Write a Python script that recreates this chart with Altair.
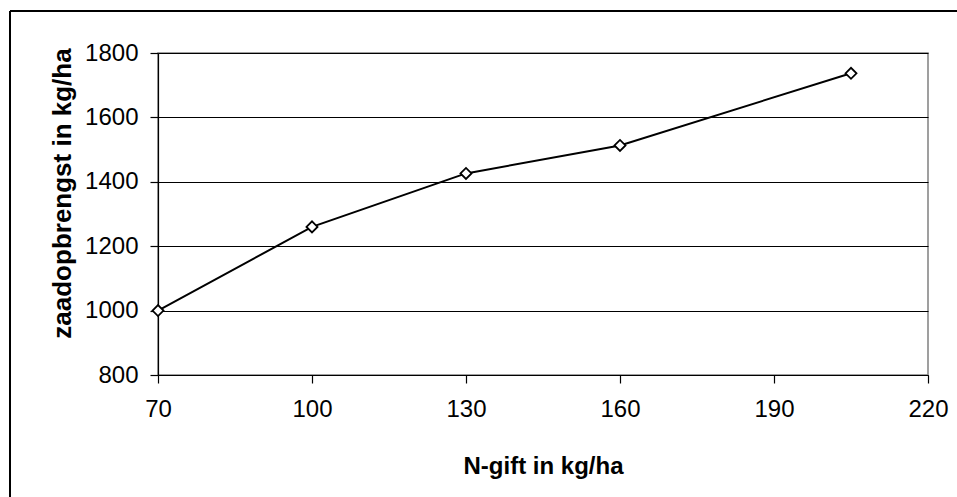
import altair as alt
import pandas as pd

n_gift = [70, 100, 130, 160, 205]
opbrengst = [1000, 1260, 1426, 1513, 1737]
x_ticks = [70, 100, 130, 160, 190, 220]
y_ticks = [800, 1000, 1200, 1400, 1600, 1800]

df = pd.DataFrame({"n": n_gift, "y": opbrengst})

FONT = "Liberation Sans"
W, H = 770, 322
PL, PT = 158, 53

x = alt.X("n:Q", scale=alt.Scale(domain=[70, 220], nice=False, zero=False),
          axis=alt.Axis(values=x_ticks, title="N-gift in kg/ha", grid=False, format="d",
                        labelFlush=False, labelOverlap=False,
                        tickSize=8, labelPadding=14, labelFontSize=24,
                        titleFontSize=24, titleFontWeight="bold",
                        titleY=91, titleBaseline="middle", titleX=W / 2))
y = alt.Y("y:Q", scale=alt.Scale(domain=[800, 1800], nice=False, zero=False),
          axis=alt.Axis(values=y_ticks, title="zaadopbrengst in kg/ha", grid=True, format="d",
                        labelFlush=False, labelOverlap=False,
                        gridColor="black", gridOpacity=1, gridWidth=1,
                        tickSize=8, labelPadding=12, labelFontSize=24,
                        titleFontSize=26, titleFontWeight="bold",
                        titleAngle=270, titleBaseline="middle", titleAlign="center",
                        titleX=-96, titleY=140))

base = alt.Chart(df).encode(x=x, y=y)
line = base.mark_line(color="black", strokeWidth=2)
pts = base.mark_point(shape="diamond", size=121, color="black", filled=False,
                      strokeWidth=1.8, opacity=1, fill="white", fillOpacity=1)

left_border = alt.Chart(df).mark_rule(color="black", strokeWidth=1.5, clip=False).encode(
    x=alt.value(10 - PL), y=alt.value(11 - PT), y2=alt.value(600))
top_border = alt.Chart(df).mark_rule(color="black", strokeWidth=1.5, clip=False).encode(
    y=alt.value(11 - PT), x=alt.value(10 - PL), x2=alt.value(1000))

chart = alt.layer(line, pts, left_border, top_border).properties(
    width=W, height=H,
    padding={"left": PL, "top": PT, "right": 957 - PL - W, "bottom": 497 - PT - H},
    autosize=alt.AutoSizeParams(type="none"),
    background="white",
).configure_view(stroke="#808080", strokeWidth=1.5).configure_axis(
    labelFont=FONT, titleFont=FONT, domainColor="black", tickColor="black",
    labelColor="black", titleColor="black", domainWidth=1.2, tickWidth=1.2,
)

chart.save("out.html", embed_options={"renderer": "svg", "actions": False})
